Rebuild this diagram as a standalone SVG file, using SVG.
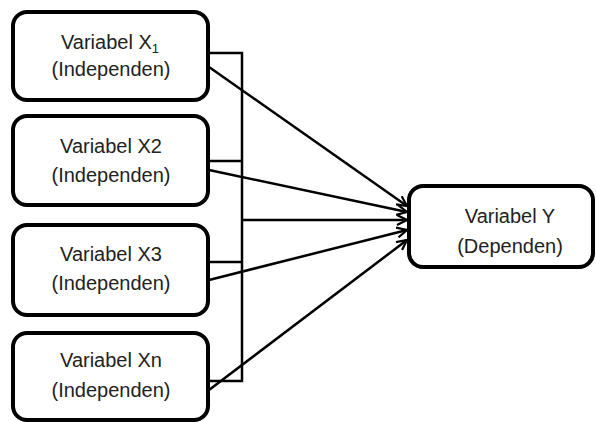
<svg xmlns="http://www.w3.org/2000/svg" width="596" height="422" viewBox="0 0 596 422">
<style>
.box{fill:#fff;stroke:#000;stroke-width:4}
.t{font-family:"Liberation Sans",Arial,sans-serif;font-size:20px;fill:#222;text-anchor:middle}
.c{fill:none;stroke:#000;stroke-width:2.5}
</style>
<defs>
<marker id="ah" viewBox="0 0 12 12" refX="11" refY="6" markerWidth="12" markerHeight="12" markerUnits="userSpaceOnUse" orient="auto">
<path d="M1,1 L11,6 L1,11" fill="none" stroke="#000" stroke-width="2.2"/>
</marker>
</defs>
<rect width="596" height="422" fill="#fff"/>
<g id="connectors">
<polyline class="c" points="208,53 242,53 242,381 208,381"/>
<line class="c" x1="208" y1="161" x2="242" y2="161"/>
<line class="c" x1="208" y1="262" x2="242" y2="262"/>
<line class="c" x1="242" y1="220" x2="407" y2="220" marker-end="url(#ah)"/>
<line class="c" x1="209" y1="67" x2="407" y2="206" marker-end="url(#ah)"/>
<line class="c" x1="209" y1="170" x2="407" y2="212" marker-end="url(#ah)"/>
<line class="c" x1="209" y1="280" x2="407" y2="230" marker-end="url(#ah)"/>
<line class="c" x1="209" y1="390" x2="407" y2="240" marker-end="url(#ah)"/>
</g>
<g id="x1">
<rect class="box" x="13" y="12" width="195" height="88" rx="14"/>
<text class="t" x="110" y="49">Variabel X<tspan font-size="13" dy="4">1</tspan></text>
<text class="t" x="111" y="76">(Independen)</text>
</g>
<g id="x2">
<rect class="box" x="13" y="116" width="195" height="89" rx="14"/>
<text class="t" x="111" y="153">Variabel X2</text>
<text class="t" x="111" y="182">(Independen)</text>
</g>
<g id="x3">
<rect class="box" x="13" y="225" width="195" height="90" rx="14"/>
<text class="t" x="111" y="261">Variabel X3</text>
<text class="t" x="111" y="290">(Independen)</text>
</g>
<g id="xn">
<rect class="box" x="13" y="333" width="195" height="87" rx="14"/>
<text class="t" x="111" y="367">Variabel Xn</text>
<text class="t" x="111" y="397">(Independen)</text>
</g>
<g id="y">
<rect class="box" x="409" y="186" width="184" height="81" rx="14"/>
<text class="t" x="510" y="223">Variabel Y</text>
<text class="t" x="510" y="253">(Dependen)</text>
</g>
</svg>
